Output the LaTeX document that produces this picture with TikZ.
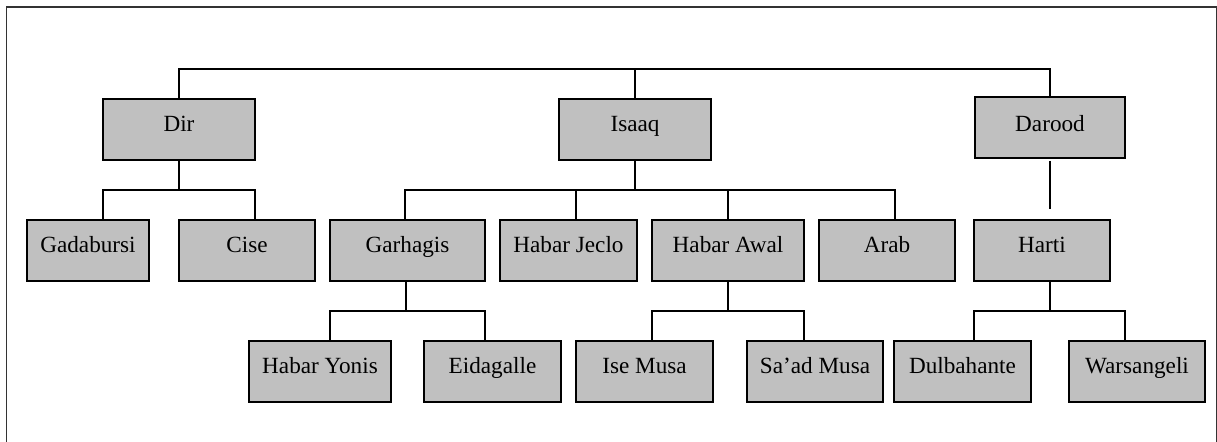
\documentclass[tikz,border=0pt]{standalone}
\usepackage{fontspec}
\setmainfont{Liberation Serif}
\definecolor{clangray}{RGB}{192,192,192}
\tikzstyle{clan} = [draw, fill=clangray, line width=0.7pt, outer sep=0pt,
  inner xsep=0pt, inner ysep=0pt, minimum height=1.22cm,
  text height=0.64cm, text depth=0.58cm, font=\fontsize{13.2}{15}\selectfont]
\tikzstyle{link} = [line width=0.7pt]
\tikzstyle{frame} = [line width=0.6pt, black!80]

\begin{document}
\begin{tikzpicture}[x=0.02cm, y=-0.02cm]
\useasboundingbox (0,0) rectangle (1217,441);
\draw[frame] (6.7,460) -- (6.7,7) -- (1216.3,7) -- (1216.3,460);

% first row
\node[clan, minimum width=3.04cm] (dir) at (179,129.5) {Dir};
\node[clan, minimum width=3.04cm] (isaaq) at (635,129.5) {Isaaq};
\node[clan, minimum width=3.00cm, text depth=0.5cm] (darood) at (1050,127.5) {Darood};

% second row
\node[clan, minimum width=2.44cm] (gadabursi) at (88,250.5) {Gadabursi};
\node[clan, minimum width=2.72cm] (cise) at (247,250.5) {Cise};
\node[clan, minimum width=3.10cm] (garhagis) at (407.5,250.5) {Garhagis};
\node[clan, minimum width=2.74cm] (habarjeclo) at (568.5,250.5) {Habar Jeclo};
\node[clan, minimum width=3.04cm] (habarawal) at (728,250.5) {Habar Awal};
\node[clan, minimum width=2.72cm] (arab) at (887,250.5) {Arab};
\node[clan, minimum width=2.72cm] (harti) at (1042,250.5) {Harti};

% third row
\node[clan, minimum width=2.84cm] (habaryonis) at (320,371.5) {Habar Yonis};
\node[clan, minimum width=2.74cm] (eidagalle) at (492.5,371.5) {Eidagalle};
\node[clan, minimum width=2.74cm] (isemusa) at (644.5,371.5) {Ise Musa};
\node[clan, minimum width=2.72cm] (saadmusa) at (815,371.5) {Sa’ad Musa};
\node[clan, minimum width=2.74cm] (dulbahante) at (962.5,371.5) {Dulbahante};
\node[clan, minimum width=2.72cm] (warsangeli) at (1137,371.5) {Warsangeli};

% top bus
\draw[link] (dir.north) -- ++(0,-30) -| (darood.north);
\draw[link] (isaaq.north) -- ++(0,-30);

% Dir
\draw[link] (dir.south) -- ++(0,30) coordinate (dirbus);
\draw[link] (gadabursi.north -| dir.west) |- (dirbus) -| (cise.north -| dir.east);

% Isaaq
\draw[link] (isaaq.south) -- ++(0,30) coordinate (isaaqbus);
\draw[link] ([xshift=-1.4pt]garhagis.north) |- (isaaqbus) -| ([xshift=4.5pt]arab.north);
\draw[link] ([xshift=4.3pt]habarjeclo.north) -- ([xshift=4.3pt]habarjeclo.north |- isaaqbus);
\draw[link] (habarawal.north) -- (habarawal.north |- isaaqbus);

% Darood
\draw[link, shorten <=1.7pt, shorten >=6.2pt] (darood.south) -- (darood.south |- harti.north);

% Garhagis
\draw[link] ([xshift=-0.85pt]garhagis.south) -- ++(0,30) coordinate (garhagisbus);
\draw[link] (habaryonis.north -| garhagis.west) |- (garhagisbus) -| (eidagalle.north -| garhagis.east);

% Habar Awal
\draw[link] (habarawal.south) -- ++(0,30) coordinate (habarawalbus);
\draw[link] (isemusa.north -| habarawal.west) |- (habarawalbus) -| (saadmusa.north -| habarawal.east);

% Harti
\draw[link] (harti.south -| darood.south) -- ++(0,30) coordinate (hartibus);
\draw[link] (dulbahante.north -| harti.west) |- (hartibus) -| (warsangeli.north -| darood.east);
\end{tikzpicture}
\end{document}
